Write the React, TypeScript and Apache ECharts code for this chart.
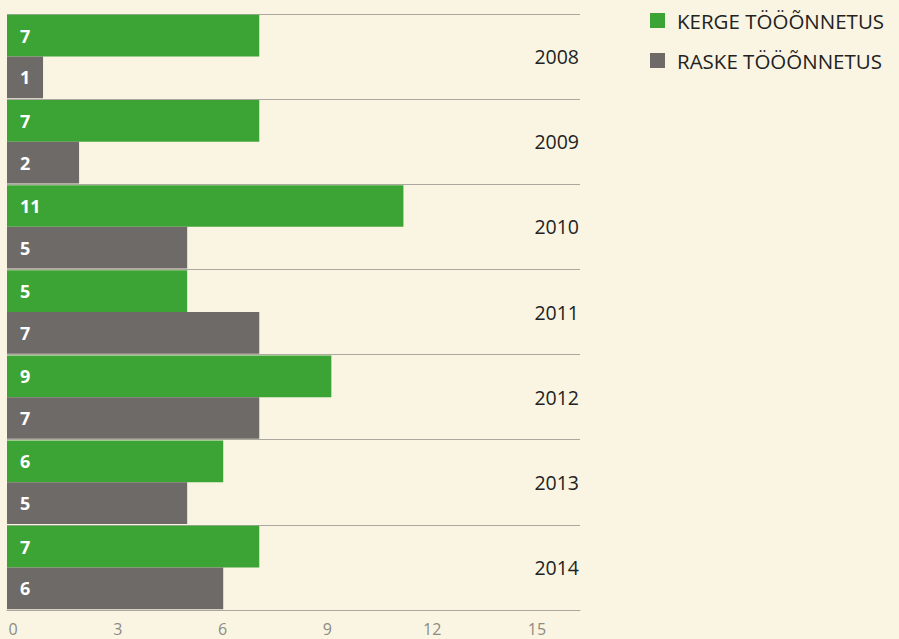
import React, { useEffect, useRef } from "react";
import * as echarts from "echarts";

const years = ["2008", "2009", "2010", "2011", "2012", "2013", "2014"];
const kerge = [7, 7, 11, 5, 9, 6, 7];
const raske = [1, 2, 5, 7, 7, 5, 6];
const seriesNames = ["KERGE TÖÖÕNNETUS", "RASKE TÖÖÕNNETUS"];
const tickMax = 15;
const tickStep = 3;

const GREEN = "#3ca434";
const GRAY = "#6e6a67";
const BG = "#faf5e2";
const LINE = "#aaa89f";

export default function App() {
  const ref = useRef<HTMLDivElement>(null);
  useEffect(() => {
    if (!ref.current) return;
    const chart = echarts.init(ref.current, undefined, { renderer: "svg" });
    const barLabel = {
      show: true,
      position: "insideLeft",
      distance: 13,
      color: "#ffffff",
      fontWeight: "bold",
      fontSize: 18,
      fontFamily: "Open Sans",
    };
    chart.setOption({
      animation: false,
      backgroundColor: BG,
      legend: {
        orient: "vertical",
        left: 650,
        top: 10,
        itemWidth: 15,
        itemHeight: 15,
        itemGap: 19,
        padding: 0,
        icon: "rect",
        textStyle: {
          fontFamily: "Open Sans",
          fontSize: 20.5,
          lineHeight: 21,
          color: "#222222",
          padding: [0, 0, 0, 7],
        },
        data: seriesNames,
      },
      grid: [
        { left: 7, top: 14, width: 573, height: 596 },
        { left: 13, top: 14, width: 524, height: 596 },
      ],
      xAxis: [
        {
          type: "value",
          gridIndex: 0,
          min: 0,
          max: 15.9,
          axisLabel: { show: false },
          axisTick: { show: false },
          axisLine: { show: true, lineStyle: { color: LINE, width: 1 } },
          splitLine: { show: false },
        },
        {
          type: "value",
          gridIndex: 1,
          min: 0,
          max: tickMax,
          interval: tickStep,
          axisTick: { show: false },
          axisLine: { show: false },
          splitLine: { show: false },
          axisLabel: {
            margin: 11,
            color: "#8c8b84",
            fontSize: 16,
            lineHeight: 16,
            fontFamily: "Open Sans",
          },
        },
      ],
      yAxis: [
        {
          type: "category",
          gridIndex: 0,
          data: years,
          inverse: true,
          position: "right",
          axisLine: { show: false },
          axisTick: { show: false },
          splitLine: { show: true, lineStyle: { color: LINE, width: 1 } },
          axisLabel: {
            inside: true,
            margin: 1,
            color: "#222222",
            fontSize: 19.5,
            fontFamily: "Open Sans",
          },
        },
        {
          type: "category",
          gridIndex: 1,
          data: years,
          show: false,
        },
      ],
      series: [
        {
          name: seriesNames[0],
          type: "bar",
          xAxisIndex: 0,
          yAxisIndex: 0,
          data: kerge,
          itemStyle: { color: GREEN },
          barGap: "0%",
          barCategoryGap: "2%",
          label: barLabel,
        },
        {
          name: seriesNames[1],
          type: "bar",
          xAxisIndex: 0,
          yAxisIndex: 0,
          data: raske,
          itemStyle: { color: GRAY },
          barGap: "0%",
          barCategoryGap: "2%",
          label: barLabel,
        },
      ],
    });
    return () => chart.dispose();
  }, []);
  return (
    <div
      ref={ref}
      style={{ position: "absolute", left: 0, top: 0, width: 899, height: 639 }}
    />
  );
}
